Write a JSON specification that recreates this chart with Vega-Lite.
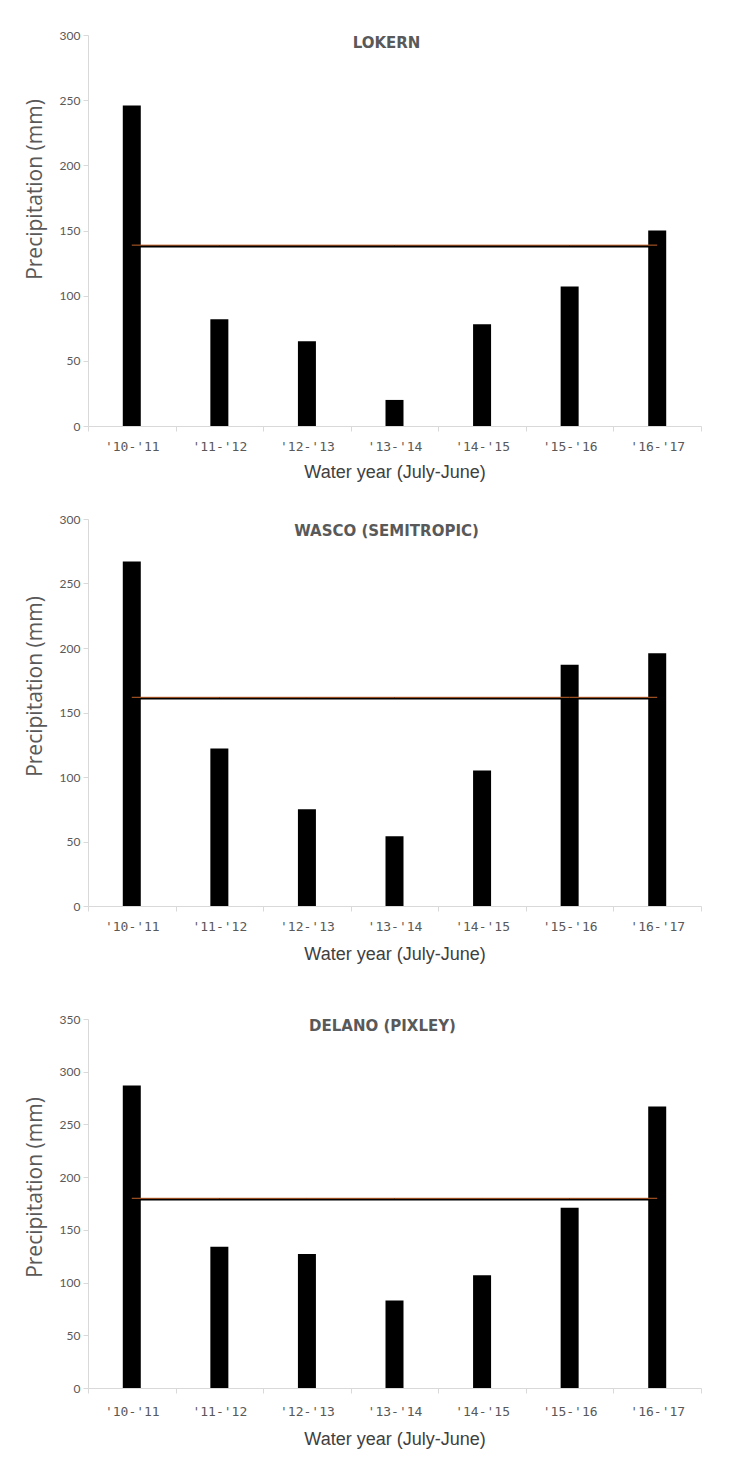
{
  "$schema": "https://vega.github.io/schema/vega-lite/v6.json",
  "background": "white",
  "autosize": {"type": "pad"},
  "padding": {"left": 24, "top": 29, "right": 20, "bottom": 10},
  "config": {
    "view": {"stroke": null},
    "axis": {
      "grid": false,
      "domainColor": "#d9d9d9",
      "tickColor": "#d9d9d9",
      "labelColor": "#595959",
      "titleColor": "#595959",
      "labelFont": "Lato",
      "labelFontSize": 12,
      "titleFontWeight": "normal"
    },
    "title": {"font": "DejaVu Sans", "fontSize": 15, "fontWeight": "bold", "color": "#595959", "anchor": "middle", "frame": "group"}
  },
  "datasets": {
    "lokern": [
      {"year": "'10-'11", "precip": 246, "mean": 138},
      {"year": "'11-'12", "precip": 82, "mean": 138},
      {"year": "'12-'13", "precip": 65, "mean": 138},
      {"year": "'13-'14", "precip": 20, "mean": 138},
      {"year": "'14-'15", "precip": 78, "mean": 138},
      {"year": "'15-'16", "precip": 107, "mean": 138},
      {"year": "'16-'17", "precip": 150, "mean": 138}
    ],
    "wasco": [
      {"year": "'10-'11", "precip": 267, "mean": 161},
      {"year": "'11-'12", "precip": 122, "mean": 161},
      {"year": "'12-'13", "precip": 75, "mean": 161},
      {"year": "'13-'14", "precip": 54, "mean": 161},
      {"year": "'14-'15", "precip": 105, "mean": 161},
      {"year": "'15-'16", "precip": 187, "mean": 161},
      {"year": "'16-'17", "precip": 196, "mean": 161}
    ],
    "delano": [
      {"year": "'10-'11", "precip": 287, "mean": 179},
      {"year": "'11-'12", "precip": 134, "mean": 179},
      {"year": "'12-'13", "precip": 127, "mean": 179},
      {"year": "'13-'14", "precip": 83, "mean": 179},
      {"year": "'14-'15", "precip": 107, "mean": 179},
      {"year": "'15-'16", "precip": 171, "mean": 179},
      {"year": "'16-'17", "precip": 267, "mean": 179}
    ]
  },
  "spacing": 50,
  "vconcat": [
    {
      "spacing": 32,
      "vconcat": [
        {
          "width": 613,
          "height": 391,
          "data": {"name": "lokern"},
          "title": {"text": "LOKERN", "offset": -22, "dx": -8},
          "encoding": {
            "x": {
              "field": "year", "type": "nominal", "sort": null,
              "scale": {"paddingInner": 0, "paddingOuter": 0},
              "axis": {"title": "Water year (July-June)", "labelAngle": 0, "tickBand": "extent", "tickSize": 5, "labelPadding": 9, "labelFont": "DejaVu Sans Mono", "labelFontSize": 13, "titleFont": "Liberation Sans", "titleFontSize": 18, "titleColor": "#404040", "titlePadding": 10}
            }
          },
          "layer": [
            {
              "mark": {"type": "bar", "color": "black", "width": 18},
              "encoding": {
                "y": {"field": "precip", "type": "quantitative", "scale": {"domain": [0, 300]},
                  "axis": {"title": "Precipitation (mm)", "values": [0, 50, 100, 150, 200, 250, 300], "tickSize": 5, "labelPadding": 3, "titleFont": "Open Sans", "titleFontSize": 21, "titlePadding": 14, "titleY": 154}}
              }
            },
            {"mark": {"type": "line", "color": "black", "strokeWidth": 2.5}, "encoding": {"y": {"field": "mean", "type": "quantitative"}}},
            {"mark": {"type": "line", "color": "#c0622a", "strokeWidth": 1, "yOffset": -1}, "encoding": {"y": {"field": "mean", "type": "quantitative"}}}
          ]
        },
        {
          "width": 613,
          "height": 387,
          "data": {"name": "wasco"},
          "title": {"text": "WASCO (SEMITROPIC)", "offset": -26, "dx": -8},
          "encoding": {
            "x": {
              "field": "year", "type": "nominal", "sort": null,
              "scale": {"paddingInner": 0, "paddingOuter": 0},
              "axis": {"title": "Water year (July-June)", "labelAngle": 0, "tickBand": "extent", "tickSize": 5, "labelPadding": 9, "labelFont": "DejaVu Sans Mono", "labelFontSize": 13, "titleFont": "Liberation Sans", "titleFontSize": 18, "titleColor": "#404040", "titlePadding": 12}
            }
          },
          "layer": [
            {
              "mark": {"type": "bar", "color": "black", "width": 18},
              "encoding": {
                "y": {"field": "precip", "type": "quantitative", "scale": {"domain": [0, 300]},
                  "axis": {"title": "Precipitation (mm)", "values": [0, 50, 100, 150, 200, 250, 300], "tickSize": 5, "labelPadding": 3, "titleFont": "Open Sans", "titleFontSize": 21, "titlePadding": 14, "titleY": 167}}
              }
            },
            {"mark": {"type": "line", "color": "black", "strokeWidth": 2.5}, "encoding": {"y": {"field": "mean", "type": "quantitative"}}},
            {"mark": {"type": "line", "color": "#c0622a", "strokeWidth": 1, "yOffset": -1}, "encoding": {"y": {"field": "mean", "type": "quantitative"}}}
          ]
        }
      ]
    },
    {
      "width": 613,
      "height": 369,
      "data": {"name": "delano"},
      "title": {"text": "DELANO (PIXLEY)", "offset": -21, "dx": -12},
      "encoding": {
        "x": {
          "field": "year", "type": "nominal", "sort": null,
          "scale": {"paddingInner": 0, "paddingOuter": 0},
          "axis": {"title": "Water year (July-June)", "labelAngle": 0, "tickBand": "extent", "tickSize": 5, "labelPadding": 12, "labelFont": "DejaVu Sans Mono", "labelFontSize": 13, "titleFont": "Liberation Sans", "titleFontSize": 18, "titleColor": "#404040", "titlePadding": 12}
        }
      },
      "layer": [
        {
          "mark": {"type": "bar", "color": "black", "width": 18},
          "encoding": {
            "y": {"field": "precip", "type": "quantitative", "scale": {"domain": [0, 350]},
              "axis": {"title": "Precipitation (mm)", "values": [0, 50, 100, 150, 200, 250, 300, 350], "tickSize": 5, "labelPadding": 3, "titleFont": "Open Sans", "titleFontSize": 21, "titlePadding": 14, "titleY": 168}}
          }
        },
        {"mark": {"type": "line", "color": "black", "strokeWidth": 2.5}, "encoding": {"y": {"field": "mean", "type": "quantitative"}}},
        {"mark": {"type": "line", "color": "#c0622a", "strokeWidth": 1, "yOffset": -1}, "encoding": {"y": {"field": "mean", "type": "quantitative"}}}
      ]
    }
  ]
}
